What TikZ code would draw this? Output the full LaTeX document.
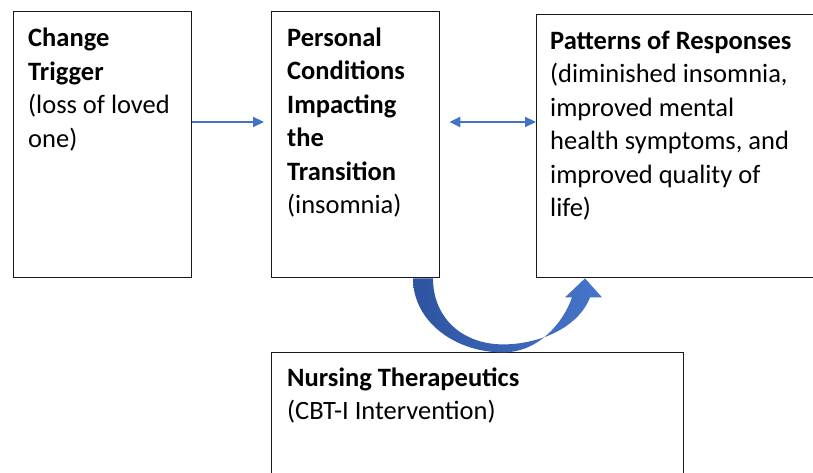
\documentclass[tikz,border=0pt]{standalone}
\usepackage{fontspec}
\setmainfont{Carlito}
\usetikzlibrary{arrows.meta}
\definecolor{linkblue}{RGB}{68,114,196}
\definecolor{bendleft}{RGB}{46,84,160}
\definecolor{bendright}{RGB}{70,117,202}
\definecolor{panelline}{RGB}{25,25,25}
\begin{document}
\begin{tikzpicture}[x=1pt,y=1pt,
  panel/.style={draw=panelline, line width=1.4pt, rectangle, anchor=north west, inner sep=0pt},
  caption/.style={anchor=base west, inner sep=0pt, font=\fontsize{26.5}{33.5}\selectfont},
  link/.style={draw=linkblue, line width=2.2pt, -{Triangle[length=11pt,width=10pt]}},
  duallink/.style={draw=linkblue, line width=2.2pt, {Triangle[length=11pt,width=10pt]}-{Triangle[length=11pt,width=10pt]}}]
\clip (0,0) rectangle (813,-473);
\fill[white] (0,0) rectangle (813,-473);

% the four panels
\node[panel, minimum width=178pt, minimum height=266pt] (trigger) at (13,-11) {};
\node[panel, minimum width=168pt, minimum height=266pt] (cond) at (271,-11) {};
\node[panel, minimum width=290pt, minimum height=263pt] (resp) at (536,-14) {};
\node[panel, minimum width=412pt, minimum height=140pt] (nurse) at (271,-352) {};

% panel texts
\node[caption] (triggertext) at ([xshift=15pt,yshift=-36pt]trigger.north west)
  {\vtop{\hbox{\bfseries Change}\hbox{\bfseries Trigger}\hbox{(loss of loved}\hbox{one)}}};
\node[caption] (condtext) at ([xshift=16pt,yshift=-35.5pt]cond.north west)
  {\vtop{\hbox{\bfseries Personal}\hbox{\bfseries Conditions}\hbox{\bfseries Impacting}\hbox{\bfseries the}\hbox{\bfseries Transition}\hbox{(insomnia)}}};
\node[caption] (resptext) at ([xshift=14pt,yshift=-35.5pt]resp.north west)
  {\vtop{\hbox{\bfseries Patterns of Responses}\hbox{(diminished insomnia,}\hbox{improved mental}\hbox{health symptoms, and}\hbox{improved quality of}\hbox{life)}}};
\node[caption] (nursetext) at ([xshift=16pt,yshift=-34pt]nurse.north west)
  {\vtop{\hbox{\bfseries Nursing Therapeutics}\hbox{(CBT-I Intervention)}}};

% straight connectors
\draw[link] ([yshift=-111pt]trigger.north east) -- ([yshift=-111pt,xshift=-7pt]cond.north west);
\draw[duallink] ([yshift=-111pt,xshift=9pt]cond.north east) -- ([yshift=-108pt]resp.north west);

% curved block arrow from the conditions panel to the responses panel
\coordinate (bendstart) at ([xshift=142pt]cond.south west);
\begin{scope}[shift={(bendstart)}]
  \shade[left color=bendleft, right color=bendright]
    (0,0) .. controls (0,-43) and (42,-74) .. (90,-74)
    .. controls (125,-74) and (150,-45) .. (159,-19)
    -- (152,-19) -- (172,0) -- (189,-19) -- (177,-19)
    .. controls (165,-50) and (125,-66) .. (90,-66)
    .. controls (50,-66) and (20,-40) .. (20,0) -- cycle;
\end{scope}
\end{tikzpicture}
\end{document}
